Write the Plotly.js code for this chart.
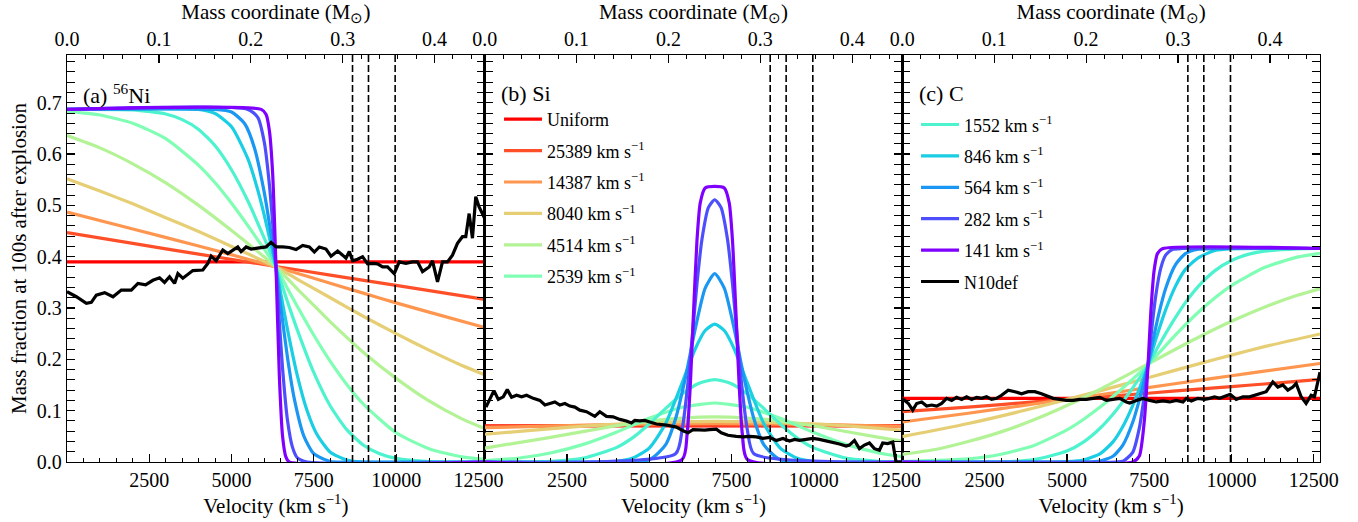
<!DOCTYPE html>
<html>
<head>
<meta charset="utf-8">
<script src="https://cdn.plot.ly/plotly-3.0.1.min.js"></script>
<style>html,body{margin:0;padding:0;background:#fff;}#chart{width:1358px;height:522px;}</style>
</head>
<body>
<div id="chart"></div>
<script>
// ---------- tick labels / categories ----------
const velTicks = [0, 2500, 5000, 7500, 10000, 12500];
const velTickText = ['', '2500', '5000', '7500', '10000', '12500'];
const massAxisRange = [0, 0.4545];
const dashedVel = [8675, 9160, 9970];
const seriesNames = ['Uniform', '25389 km s<sup>−1</sup>', '14387 km s<sup>−1</sup>', '8040 km s<sup>−1</sup>',
  '4514 km s<sup>−1</sup>', '2539 km s<sup>−1</sup>', '1552 km s<sup>−1</sup>', '846 km s<sup>−1</sup>',
  '564 km s<sup>−1</sup>', '282 km s<sup>−1</sup>', '141 km s<sup>−1</sup>'];
const seriesColors = ['#ff0000', '#ff4f28', '#ff964f', '#e6ce74', '#b3f396', '#80ffb4', '#4df3ce',
  '#1acee3', '#1a96f3', '#4d4ffc', '#8000ff'];

// ---------- Panel (a) 56Ni ----------
const niU_v = [0, 12690];
const niU = [0.39, 0.39];
const ni25389_v = [0, 2000, 4000, 6350, 8000, 10000, 12690];
const ni25389 = [0.447, 0.426, 0.405, 0.381, 0.364, 0.344, 0.317];
const ni14387_v = [0, 2000, 4000, 5500, 6350, 7500, 9000, 10000, 11000, 12690];
const ni14387 = [0.487, 0.454, 0.421, 0.395, 0.380, 0.358, 0.329, 0.310, 0.292, 0.262];
const ni8040_v = [0, 1000, 2000, 3000, 4000, 5000, 6350, 7000, 8000, 9000, 10000, 11000, 12000, 12690];
const ni8040 = [0.552, 0.528, 0.503, 0.476, 0.449, 0.420, 0.380, 0.356, 0.320, 0.284, 0.250, 0.218, 0.188, 0.170];
const ni4514_v = [0, 1000, 2000, 3000, 4000, 5000, 5700, 6350, 7000, 7500, 8000, 9000, 10000, 11000, 12000, 12690];
const ni4514 = [0.636, 0.612, 0.581, 0.544, 0.500, 0.451, 0.415, 0.380, 0.337, 0.305, 0.273, 0.214, 0.163, 0.119, 0.084, 0.065];
const ni2539_v = [0, 1000, 2000, 3000, 4000, 4500, 5000, 5500, 6000, 6350, 6700, 7000, 7500, 8000, 8500, 9000, 10000, 11000, 12000, 12690];
const ni2539 = [0.683, 0.676, 0.660, 0.630, 0.578, 0.544, 0.504, 0.460, 0.414, 0.380, 0.338, 0.303, 0.247, 0.196, 0.151, 0.113, 0.057, 0.026, 0.010, 0.005];
const ni1552_v = [0, 2000, 3000, 3500, 4000, 4500, 5000, 5500, 6000, 6350, 6700, 7000, 7500, 8000, 8500, 9000, 9500, 10000, 11000, 12690];
const ni1552 = [0.687, 0.686, 0.678, 0.667, 0.648, 0.616, 0.569, 0.508, 0.435, 0.380, 0.312, 0.257, 0.174, 0.109, 0.063, 0.033, 0.016, 0.007, 0.001, 0];
const ni846_v = [0, 4000, 4500, 5000, 5500, 5800, 6000, 6200, 6350, 6500, 6700, 7000, 7300, 7600, 8000, 8500, 9000, 12690];
const ni846 = [0.687, 0.687, 0.679, 0.653, 0.590, 0.529, 0.479, 0.423, 0.380, 0.327, 0.258, 0.168, 0.099, 0.053, 0.019, 0.004, 0, 0];
const ni564_v = [0, 4500, 5000, 5400, 5700, 6000, 6200, 6350, 6500, 6700, 6900, 7200, 7500, 8000, 8500, 12690];
const ni564 = [0.687, 0.687, 0.682, 0.659, 0.611, 0.523, 0.444, 0.380, 0.300, 0.203, 0.125, 0.050, 0.016, 0.001, 0, 0];
const ni282_v = [0, 5500, 5800, 6000, 6150, 6250, 6350, 6450, 6550, 6700, 6850, 7000, 7300, 12690];
const ni282 = [0.687, 0.687, 0.671, 0.621, 0.540, 0.465, 0.380, 0.275, 0.182, 0.081, 0.029, 0.008, 0, 0];
const ni141_v = [0, 5900, 6050, 6150, 6250, 6350, 6450, 6550, 6650, 6750, 12690];
const ni141 = [0.687, 0.687, 0.677, 0.645, 0.560, 0.380, 0.170, 0.050, 0.010, 0, 0];
const niN10_v = [0, 284, 588, 739, 891, 1144, 1397, 1650, 1953, 2155, 2388, 2610, 2813, 2964, 3116, 3268, 3369, 3520, 3824, 4127, 4279, 4380, 4532, 4734, 4886, 5038, 5189, 5290, 5442, 5594, 5846, 6049, 6200, 6352, 6554, 6756, 6959, 7161, 7363, 7515, 7667, 7869, 8021, 8223, 8375, 8476, 8577, 8678, 8830, 8981, 9133, 9285, 9436, 9588, 9740, 9942, 10094, 10296, 10498, 10650, 10802, 11004, 11105, 11257, 11409, 11560, 11712, 11864, 12015, 12116, 12218, 12319, 12420, 12521, 12690];
const niN10 = [0.332, 0.322, 0.309, 0.311, 0.325, 0.330, 0.322, 0.335, 0.335, 0.348, 0.345, 0.354, 0.359, 0.350, 0.361, 0.348, 0.367, 0.358, 0.373, 0.374, 0.387, 0.401, 0.392, 0.413, 0.406, 0.413, 0.419, 0.410, 0.419, 0.415, 0.418, 0.419, 0.428, 0.419, 0.419, 0.418, 0.414, 0.422, 0.419, 0.409, 0.419, 0.415, 0.401, 0.411, 0.403, 0.397, 0.410, 0.392, 0.395, 0.400, 0.386, 0.387, 0.386, 0.380, 0.380, 0.367, 0.390, 0.387, 0.390, 0.390, 0.371, 0.380, 0.392, 0.351, 0.390, 0.390, 0.403, 0.426, 0.439, 0.439, 0.484, 0.436, 0.517, 0.497, 0.475];

// ---------- Panel (b) Si ----------
const siU_v = [0, 12690];
const siU = [0.0705, 0.0705];
const si25389_v = [0, 3500, 6990, 10500, 12690];
const si25389 = [0.0696, 0.0712, 0.0720, 0.0712, 0.0700];
const si14387_v = [0, 3500, 6990, 10500, 12690];
const si14387 = [0.0668, 0.0725, 0.0750, 0.0728, 0.0692];
const si8040_v = [0, 1500, 3000, 4500, 6000, 6990, 8000, 9500, 11000, 12690];
const si8040 = [0.054, 0.062, 0.070, 0.0755, 0.0785, 0.079, 0.0785, 0.0755, 0.0705, 0.062];
const si4514_v = [0, 2000, 4000, 5000, 6000, 6990, 7980, 8980, 9980, 11980, 12690];
const si4514 = [0.027, 0.048, 0.0707, 0.0797, 0.0856, 0.0878, 0.0856, 0.0797, 0.0707, 0.048, 0.041];
const si2539_v = [0, 1000, 2000, 3000, 4000, 5000, 6000, 6990, 7980, 8980, 9980, 10980, 11980, 12690];
const si2539 = [0.0028, 0.0073, 0.0176, 0.0343, 0.058, 0.0851, 0.1067, 0.115, 0.1067, 0.0851, 0.058, 0.0343, 0.0176, 0.0105];
const si1552_v = [0, 2000, 3000, 4000, 4500, 5000, 5500, 6000, 6500, 6990, 7480, 7980, 8480, 8980, 9480, 9980, 10980, 11980, 12690];
const si1552 = [0, 0.0013, 0.0075, 0.028, 0.0475, 0.0741, 0.1045, 0.1326, 0.153, 0.1606, 0.153, 0.1326, 0.1045, 0.0741, 0.0475, 0.028, 0.0075, 0.0013, 0];
const si846_v = [0, 4000, 4500, 5000, 5500, 6000, 6400, 6700, 6990, 7280, 7580, 7980, 8480, 8980, 9480, 9980, 12690];
const si846 = [0, 0.0014, 0.0076, 0.0272, 0.0751, 0.1542, 0.2207, 0.2562, 0.2686, 0.2562, 0.2207, 0.1542, 0.0751, 0.0272, 0.0076, 0.0014, 0];
const si564_v = [0, 5000, 5500, 5800, 6100, 6400, 6700, 6990, 7280, 7580, 7880, 8180, 8480, 8980, 12690];
const si564 = [0, 0.0044, 0.034, 0.0843, 0.1644, 0.260, 0.3386, 0.367, 0.3386, 0.260, 0.1644, 0.0843, 0.034, 0.0044, 0];
const si282_v = [0, 5800, 6000, 6200, 6330, 6450, 6600, 6800, 6990, 7180, 7380, 7530, 7650, 7780, 7980, 8180, 12690];
const si282 = [0, 0.016, 0.063, 0.168, 0.261, 0.347, 0.433, 0.496, 0.511, 0.496, 0.433, 0.347, 0.261, 0.168, 0.063, 0.016, 0];
const si141_v = [0, 6000, 6150, 6250, 6330, 6450, 6550, 6700, 6990, 7280, 7430, 7530, 7650, 7730, 7830, 7980, 12690];
const si141 = [0, 0.005, 0.054, 0.153, 0.2685, 0.431, 0.505, 0.534, 0.537, 0.534, 0.505, 0.431, 0.2685, 0.153, 0.054, 0.005, 0];
const siN10_v = [40, 282, 414, 565, 687, 818, 970, 1122, 1273, 1476, 1678, 1830, 1981, 2133, 2285, 2437, 2588, 2740, 2891, 3094, 3346, 3498, 3700, 3903, 4105, 4307, 4459, 4560, 4712, 4863, 5015, 5217, 5521, 5824, 6026, 6178, 6330, 6482, 6684, 6836, 7038, 7189, 7392, 7644, 7847, 8049, 8251, 8454, 8656, 8859, 9061, 9263, 9415, 9566, 9768, 9971, 10173, 10375, 10577, 10779, 10982, 11083, 11235, 11386, 11538, 11690, 11841, 11993, 12094, 12246, 12398, 12499, 12690];
const siN10 = [0.107, 0.139, 0.122, 0.127, 0.141, 0.126, 0.130, 0.127, 0.130, 0.124, 0.120, 0.111, 0.114, 0.117, 0.111, 0.114, 0.109, 0.107, 0.101, 0.098, 0.089, 0.098, 0.089, 0.088, 0.083, 0.080, 0.076, 0.081, 0.080, 0.081, 0.078, 0.074, 0.072, 0.068, 0.061, 0.057, 0.063, 0.062, 0.062, 0.063, 0.064, 0.057, 0.052, 0.050, 0.049, 0.050, 0.049, 0.046, 0.048, 0.042, 0.046, 0.041, 0.044, 0.042, 0.044, 0.046, 0.044, 0.041, 0.039, 0.035, 0.031, 0.033, 0.042, 0.026, 0.033, 0.037, 0.026, 0.023, 0.037, 0.036, 0.039, 0.0, 0.0];

// ---------- Panel (c) C ----------
const cU_v = [0, 12690];
const cU = [0.124, 0.124];
const c25389_v = [0, 2000, 4000, 6000, 7465, 9000, 10000, 11000, 12690];
const c25389 = [0.098, 0.107, 0.117, 0.127, 0.134, 0.142, 0.147, 0.152, 0.161];
const c14387_v = [0, 2000, 4000, 6000, 7465, 9000, 10000, 11000, 12690];
const c14387 = [0.078, 0.095, 0.113, 0.131, 0.145, 0.159, 0.168, 0.177, 0.192];
const c8040_v = [0, 2000, 4000, 6000, 7465, 9000, 10000, 11000, 12690];
const c8040 = [0.0495, 0.0749, 0.1051, 0.1386, 0.1643, 0.1912, 0.2082, 0.2247, 0.2495];
const c4514_v = [0, 1000, 2000, 3000, 4000, 5000, 6000, 7000, 7465, 8000, 9000, 10000, 11000, 12000, 12690];
const c4514 = [0.015, 0.0244, 0.0399, 0.0587, 0.0822, 0.110, 0.1413, 0.175, 0.191, 0.2094, 0.243, 0.2741, 0.3015, 0.3247, 0.3375];
const c2539_v = [0, 2000, 3000, 4000, 5000, 5500, 6000, 6500, 7000, 7465, 8000, 8500, 9000, 9500, 10000, 11000, 12000, 12690];
const c2539 = [0.001, 0.0062, 0.0152, 0.0323, 0.0626, 0.0829, 0.1066, 0.133, 0.1615, 0.189, 0.2269, 0.2608, 0.2922, 0.32, 0.3438, 0.3788, 0.3992, 0.4067];
const c1552_v = [0, 3000, 4000, 5000, 5500, 6000, 6500, 7000, 7465, 7800, 8200, 8600, 9000, 9500, 10000, 10500, 11000, 12000, 12690];
const c1552 = [0, 0.0005, 0.0047, 0.0214, 0.0388, 0.0653, 0.1009, 0.1445, 0.189, 0.2278, 0.2716, 0.3106, 0.3428, 0.3729, 0.3926, 0.4045, 0.4108, 0.4152, 0.416];
const c846_v = [0, 4500, 5000, 5500, 6000, 6400, 6700, 7000, 7250, 7465, 7700, 8000, 8300, 8600, 9000, 9500, 10000, 12690];
const c846 = [0, 0, 0.0007, 0.0039, 0.0157, 0.0392, 0.0692, 0.110, 0.151, 0.189, 0.2387, 0.2963, 0.3426, 0.3753, 0.3982, 0.4123, 0.4154, 0.416];
const c564_v = [0, 5500, 6000, 6400, 6700, 7000, 7200, 7350, 7465, 7600, 7800, 8000, 8300, 8600, 9000, 9500, 12690];
const c564 = [0, 0, 0.0017, 0.0111, 0.0329, 0.0775, 0.1207, 0.1585, 0.189, 0.232, 0.2906, 0.3382, 0.3845, 0.4061, 0.4145, 0.416, 0.416];
const c282_v = [0, 6500, 6700, 7000, 7200, 7350, 7465, 7550, 7700, 7850, 8000, 8200, 8500, 12690];
const c282 = [0, 0, 0.0013, 0.0187, 0.0659, 0.1292, 0.189, 0.2428, 0.3241, 0.3772, 0.403, 0.414, 0.416, 0.416];
const c141_v = [0, 7000, 7200, 7350, 7465, 7550, 7650, 7750, 7900, 12690];
const c141 = [0, 0, 0.0115, 0.0784, 0.189, 0.292, 0.373, 0.406, 0.4156, 0.416];
const cN10_v = [0, 183, 315, 436, 588, 739, 891, 1043, 1194, 1346, 1498, 1649, 1801, 1953, 2104, 2256, 2408, 2559, 2711, 2863, 3015, 3217, 3419, 3622, 3824, 4026, 4228, 4431, 4582, 4784, 4987, 5189, 5391, 5594, 5796, 5998, 6200, 6403, 6605, 6807, 6908, 7111, 7313, 7515, 7717, 7920, 8122, 8324, 8526, 8628, 8779, 8981, 9184, 9335, 9487, 9639, 9790, 9962, 10144, 10347, 10549, 10701, 10853, 11055, 11257, 11409, 11561, 11712, 11864, 11965, 12117, 12268, 12420, 12521, 12690];
const cN10 = [0.124, 0.114, 0.101, 0.114, 0.117, 0.109, 0.111, 0.109, 0.114, 0.124, 0.120, 0.126, 0.122, 0.127, 0.122, 0.126, 0.124, 0.127, 0.122, 0.124, 0.130, 0.140, 0.137, 0.133, 0.137, 0.137, 0.133, 0.127, 0.124, 0.122, 0.120, 0.120, 0.122, 0.122, 0.124, 0.126, 0.120, 0.122, 0.124, 0.117, 0.115, 0.120, 0.124, 0.120, 0.117, 0.119, 0.117, 0.120, 0.117, 0.124, 0.119, 0.124, 0.122, 0.124, 0.127, 0.124, 0.128, 0.132, 0.122, 0.127, 0.127, 0.130, 0.133, 0.137, 0.156, 0.146, 0.150, 0.140, 0.146, 0.153, 0.127, 0.114, 0.130, 0.127, 0.175];

// ---------- build ----------
const FONT = 'Liberation Serif';
const panels = [
  {xa: 'x', xt: 'x2', ya: 'y', legend: null,
   data: [[niU_v, niU], [ni25389_v, ni25389], [ni14387_v, ni14387], [ni8040_v, ni8040], [ni4514_v, ni4514], [ni2539_v, ni2539],
          [ni1552_v, ni1552], [ni846_v, ni846], [ni564_v, ni564], [ni282_v, ni282], [ni141_v, ni141]],
   n10: [niN10_v, niN10]},
  {xa: 'x3', xt: 'x4', ya: 'y2', legend: 'b',
   data: [[siU_v, siU], [si25389_v, si25389], [si14387_v, si14387], [si8040_v, si8040], [si4514_v, si4514], [si2539_v, si2539],
          [si1552_v, si1552], [si846_v, si846], [si564_v, si564], [si282_v, si282], [si141_v, si141]],
   n10: [siN10_v, siN10]},
  {xa: 'x5', xt: 'x6', ya: 'y3', legend: 'c',
   data: [[cU_v, cU], [c25389_v, c25389], [c14387_v, c14387], [c8040_v, c8040], [c4514_v, c4514], [c2539_v, c2539],
          [c1552_v, c1552], [c846_v, c846], [c564_v, c564], [c282_v, c282], [c141_v, c141]],
   n10: [cN10_v, cN10]}
];

const traces = [];
panels.forEach(p => {
  // empty helper trace so that the top (mass coordinate) axis subplot is created
  traces.push({type: 'scatter', mode: 'markers', x: massAxisRange, y: [null, null], xaxis: p.xt, yaxis: p.ya,
    showlegend: false, hoverinfo: 'skip', marker: {opacity: 0}});
  p.data.forEach((d, i) => {
    let show = false, leg = 'legend';
    if (p.legend === 'b' && i <= 5) { show = true; leg = 'legend'; }
    if (p.legend === 'c' && i >= 6) { show = true; leg = 'legend2'; }
    traces.push({
      type: 'scatter', mode: 'lines', x: d[0], y: d[1], xaxis: p.xa, yaxis: p.ya,
      name: seriesNames[i], legendgroup: 'g' + i, legend: leg, showlegend: show,
      line: {color: seriesColors[i], width: 3.2, shape: 'spline', smoothing: 0.6}, hoverinfo: 'skip'
    });
  });
  traces.push({
    type: 'scatter', mode: 'lines', x: p.n10[0], y: p.n10[1], xaxis: p.xa, yaxis: p.ya,
    name: 'N10def', legendgroup: 'g11', legend: 'legend2', showlegend: p.legend === 'c',
    line: {color: '#000000', width: 3.2}, hoverinfo: 'skip'
  });
});

const tickFont = {family: FONT, size: 20, color: '#000000'};
const titleFont = {family: FONT, size: 21, color: '#000000'};
function common() {
  return {showline: true, linecolor: '#000000', linewidth: 1.3, ticks: 'inside', ticklen: 8, tickwidth: 1.2,
    tickcolor: '#000000', showgrid: false, zeroline: false, tickfont: Object.assign({}, tickFont)};
}
function bottomAxis(dom, anchor) {
  return Object.assign(common(), {domain: dom, anchor: anchor, range: [0, 12690], tickmode: 'array',
    tickvals: velTicks, ticktext: velTickText,
    minor: {tickmode: 'linear', tick0: 0, dtick: 500, ticks: 'inside', ticklen: 4, tickwidth: 1, tickcolor: '#000000'},
    title: {text: 'Velocity (km s<sup>−1</sup>)', font: Object.assign({}, titleFont), standoff: 3}});
}
function topAxis(over, anchor) {
  return Object.assign(common(), {overlaying: over, side: 'top', anchor: anchor, range: massAxisRange.slice(),
    tickmode: 'linear', tick0: 0, dtick: 0.1, tickformat: '.1f',
    minor: {tickmode: 'linear', tick0: 0, dtick: 0.02, ticks: 'inside', ticklen: 4, tickwidth: 1, tickcolor: '#000000'},
    title: {text: 'Mass coordinate (M<sub>⊙</sub>)', font: Object.assign({}, titleFont), standoff: 4}});
}
function yAxis(anchor, labels) {
  const a = Object.assign(common(), {domain: [0, 1], anchor: anchor, range: [0, 0.793], tickmode: 'linear', tick0: 0,
    dtick: 0.1, tickformat: '.1f', mirror: 'allticks', showticklabels: labels,
    minor: {tickmode: 'linear', tick0: 0, dtick: 0.02, ticks: 'inside', ticklen: 4, tickwidth: 1, tickcolor: '#000000'}});
  if (labels) a.title = {text: 'Mass fraction at 100s after explosion', font: Object.assign({}, titleFont), standoff: 4};
  return a;
}

const shapes = [];
[['x', 'y'], ['x3', 'y2'], ['x5', 'y3']].forEach(([xa, ya]) => {
  dashedVel.forEach(v => {
    shapes.push({type: 'line', xref: xa, yref: ya + ' domain', x0: v, x1: v, y0: 0, y1: 1,
      line: {color: '#000000', width: 1.6, dash: '7px,3px'}, layer: 'above'});
  });
});

const labFont = {family: FONT, size: 22, color: '#000000'};
const annotations = [
  {text: '(a) <sup>56</sup>Ni', xref: 'x domain', yref: 'y domain', x: 0.034, y: 0.905, xanchor: 'left', yanchor: 'middle', showarrow: false, font: labFont},
  {text: '(b) Si', xref: 'x3 domain', yref: 'y2 domain', x: 0.034, y: 0.905, xanchor: 'left', yanchor: 'middle', showarrow: false, font: labFont},
  {text: '(c) C', xref: 'x5 domain', yref: 'y3 domain', x: 0.034, y: 0.905, xanchor: 'left', yanchor: 'middle', showarrow: false, font: labFont}
];

const layout = {
  width: 1358, height: 522,
  margin: {l: 67, r: 38, t: 55, b: 60},
  paper_bgcolor: '#ffffff', plot_bgcolor: '#ffffff',
  font: {family: FONT, size: 20, color: '#000000'},
  xaxis: bottomAxis([0, 1 / 3], 'y'),
  xaxis2: topAxis('x', 'y'),
  xaxis3: bottomAxis([1 / 3, 2 / 3], 'y2'),
  xaxis4: topAxis('x3', 'y2'),
  xaxis5: bottomAxis([2 / 3, 1], 'y3'),
  xaxis6: topAxis('x5', 'y3'),
  yaxis: yAxis('x', true),
  yaxis2: yAxis('x3', false),
  yaxis3: yAxis('x5', false),
  legend: {x: 0.3448, y: 0.887, xanchor: 'left', yanchor: 'top', bgcolor: 'rgba(0,0,0,0)', borderwidth: 0,
    font: {family: FONT, size: 18, color: '#000000'}, traceorder: 'grouped', tracegroupgap: 5, itemwidth: 38},
  legend2: {x: 0.6776, y: 0.874, xanchor: 'left', yanchor: 'top', bgcolor: 'rgba(0,0,0,0)', borderwidth: 0,
    font: {family: FONT, size: 18, color: '#000000'}, traceorder: 'grouped', tracegroupgap: 5, itemwidth: 38},
  shapes: shapes,
  annotations: annotations,
  showlegend: true
};

Plotly.newPlot('chart', traces, layout, {staticPlot: true, displayModeBar: false});
</script>
</body>
</html>
